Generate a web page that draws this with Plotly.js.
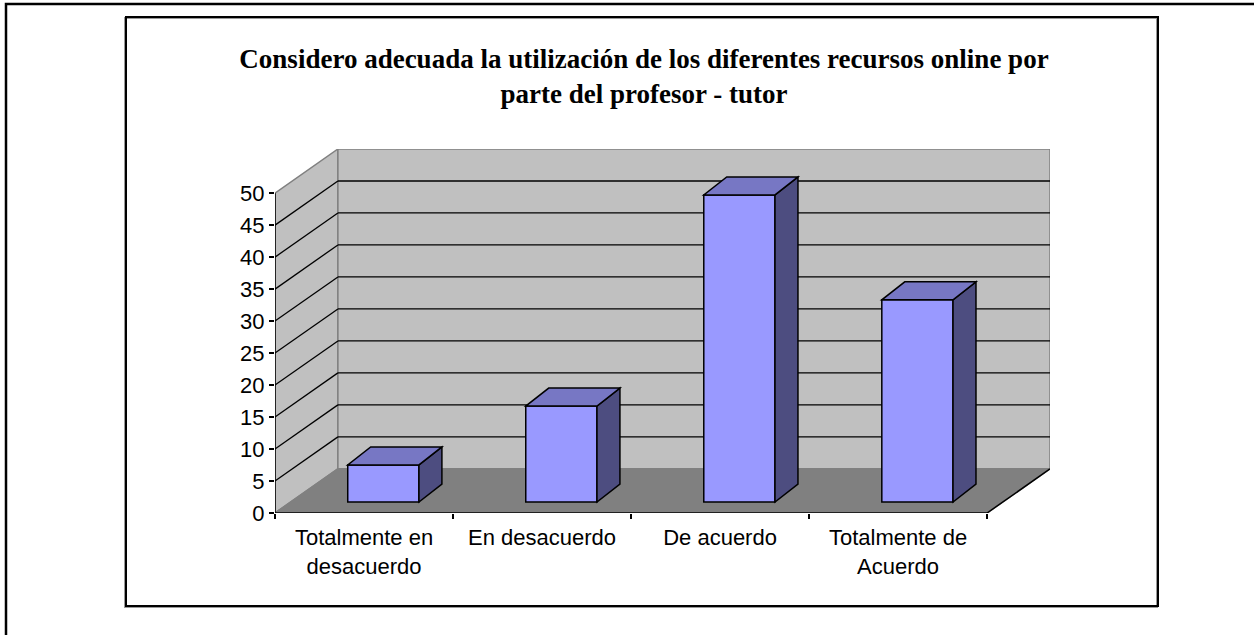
<!DOCTYPE html>
<html><head><meta charset="utf-8">
<script src="https://cdn.plot.ly/plotly-3.0.1.min.js"></script>
<style>html,body{margin:0;padding:0;background:#fff;overflow:hidden}</style>
</head><body>
<div id="chart" style="width:1254px;height:635px"></div>
<script>
// ---- data ----
const categories = ["Totalmente en<br>desacuerdo", "En desacuerdo", "De acuerdo", "Totalmente de<br>Acuerdo"];
const values = [5.8, 15, 48, 31.6];
const yTickValues = [0, 5, 10, 15, 20, 25, 30, 35, 40, 45, 50];
const yTickLabels = ["0", "5", "10", "15", "20", "25", "30", "35", "40", "45", "50"];
const titleText = "Considero adecuada la utilización de los diferentes recursos online por<br>parte del profesor - tutor";

// ---- layout / 3D styling ----
const W = 1254, H = 635;
const M = {l: 275, r: 204, t: 149, b: 122};
const PW = W - M.l - M.r, PH = H - M.t - M.b;
const DX = 0.3534, DY = 6.9;           // wall depth offset (data units)
const YMAX = 50;
const BASE = 1.72, OFFSET = -0.0914, BW = 0.40;   // bar placement inside depth
const BDX = 0.129, BDY = 2.81;         // bar depth
const X0 = -0.5, X1 = categories.length - 0.5;

const px2x = p => (p - M.l) / PW;
const px2y = p => (H - M.b - p) / PH;

const shapes = [];
const edgeGray = {color: '#808080', width: 1.5};
const black = {color: '#000', width: 1.5};
function path(pts){ return 'M' + pts.map(p => p[0] + ',' + p[1]).join('L') + 'Z'; }
function poly(pts, fill, line, layer){
  shapes.push({type: 'path', xref: 'x', yref: 'y', path: path(pts), fillcolor: fill, line: line, layer: layer || 'below'});
}
function seg(x0, y0, x1, y1, line, layer){
  shapes.push({type: 'line', xref: 'x', yref: 'y', x0: x0, y0: y0, x1: x1, y1: y1, line: line, layer: layer || 'below'});
}

// outer and inner frames (paper)
shapes.push({type: 'rect', xref: 'paper', yref: 'paper', x0: px2x(6), x1: px2x(1262), y0: px2y(4), y1: px2y(642), line: {color: '#000', width: 2.5}, fillcolor: 'rgba(0,0,0,0)', layer: 'below'});
shapes.push({type: 'rect', xref: 'paper', yref: 'paper', x0: px2x(125), x1: px2x(1157), y0: px2y(18), y1: px2y(607), line: {color: '#999', width: 2}, fillcolor: 'rgba(0,0,0,0)', layer: 'below'});
shapes.push({type: 'rect', xref: 'paper', yref: 'paper', x0: px2x(126), x1: px2x(1158), y0: px2y(17), y1: px2y(606), line: {color: '#000', width: 2}, fillcolor: 'rgba(0,0,0,0)', layer: 'below'});

// walls and floor
poly([[X0, 0], [X0, YMAX], [X0 + DX, YMAX + DY], [X0 + DX, DY]], '#c0c0c0', edgeGray);
poly([[X0 + DX, DY], [X1 + DX, DY], [X1 + DX, YMAX + DY], [X0 + DX, YMAX + DY]], '#c0c0c0', edgeGray);
poly([[X0, 0], [X1, 0], [X1 + DX, DY], [X0 + DX, DY]], '#808080', edgeGray);

// gridlines on walls
yTickValues.forEach(v => {
  if (v === 0 || v === YMAX) return;
  seg(X0, v, X0 + DX, v + DY, {color: '#000', width: 1.3});
  seg(X0 + DX, v + DY, X1 + DX, v + DY, {color: '#000', width: 1.3});
});
// axis lines
seg(X0, 0, X0, YMAX, black);
seg(X0, 0, X1, 0, black);
seg(X1, 0, X1 + DX, DY, black);

// bar side and top faces
values.forEach((v, i) => {
  const xl = i + OFFSET, xr = xl + BW, yb = BASE, yt = BASE + v;
  poly([[xr, yb], [xr, yt], [xr + BDX, yt + BDY], [xr + BDX, yb + BDY]], '#4d4d80', black, 'above');
  poly([[xl, yt], [xr, yt], [xr + BDX, yt + BDY], [xl + BDX, yt + BDY]], '#7777c4', black, 'above');
});

const trace = {
  type: 'bar',
  x: categories,
  y: values,
  base: values.map(() => BASE),
  offset: OFFSET,
  width: BW,
  marker: {color: '#9999ff', line: {color: '#000', width: 1.5}},
  hoverinfo: 'skip',
  showlegend: false
};

const tickFont = {family: "Arial, 'Liberation Sans', sans-serif", size: 22, color: '#000'};
const layout = {
  width: W, height: H,
  margin: M,
  paper_bgcolor: '#fff',
  plot_bgcolor: 'rgba(0,0,0,0)',
  showlegend: false,
  title: {
    text: titleText,
    font: {family: "'Times New Roman', 'Liberation Serif', serif", size: 27, weight: 'bold', color: '#000'},
    x: 644 / W, xanchor: 'center',
    y: 1 - 68 / H, yanchor: 'top', yref: 'container'
  },
  xaxis: {
    type: 'category',
    range: [X0, X1 + DX],
    autorange: false,
    showgrid: false, zeroline: false, showline: false,
    tickson: 'boundaries',
    ticks: 'outside', ticklen: 5, tickwidth: 1.5, tickcolor: '#000',
    ticklabelstandoff: 9,
    tickfont: tickFont,
    fixedrange: true
  },
  yaxis: {
    range: [0, YMAX + DY],
    autorange: false,
    tickvals: yTickValues,
    ticktext: yTickLabels,
    showgrid: false, zeroline: false, showline: false,
    ticks: 'outside', ticklen: 5, tickwidth: 1.5, tickcolor: '#000',
    tickfont: tickFont,
    fixedrange: true
  },
  shapes: shapes
};

Plotly.newPlot('chart', [trace], layout, {displayModeBar: false, staticPlot: true});
</script>
</body></html>
